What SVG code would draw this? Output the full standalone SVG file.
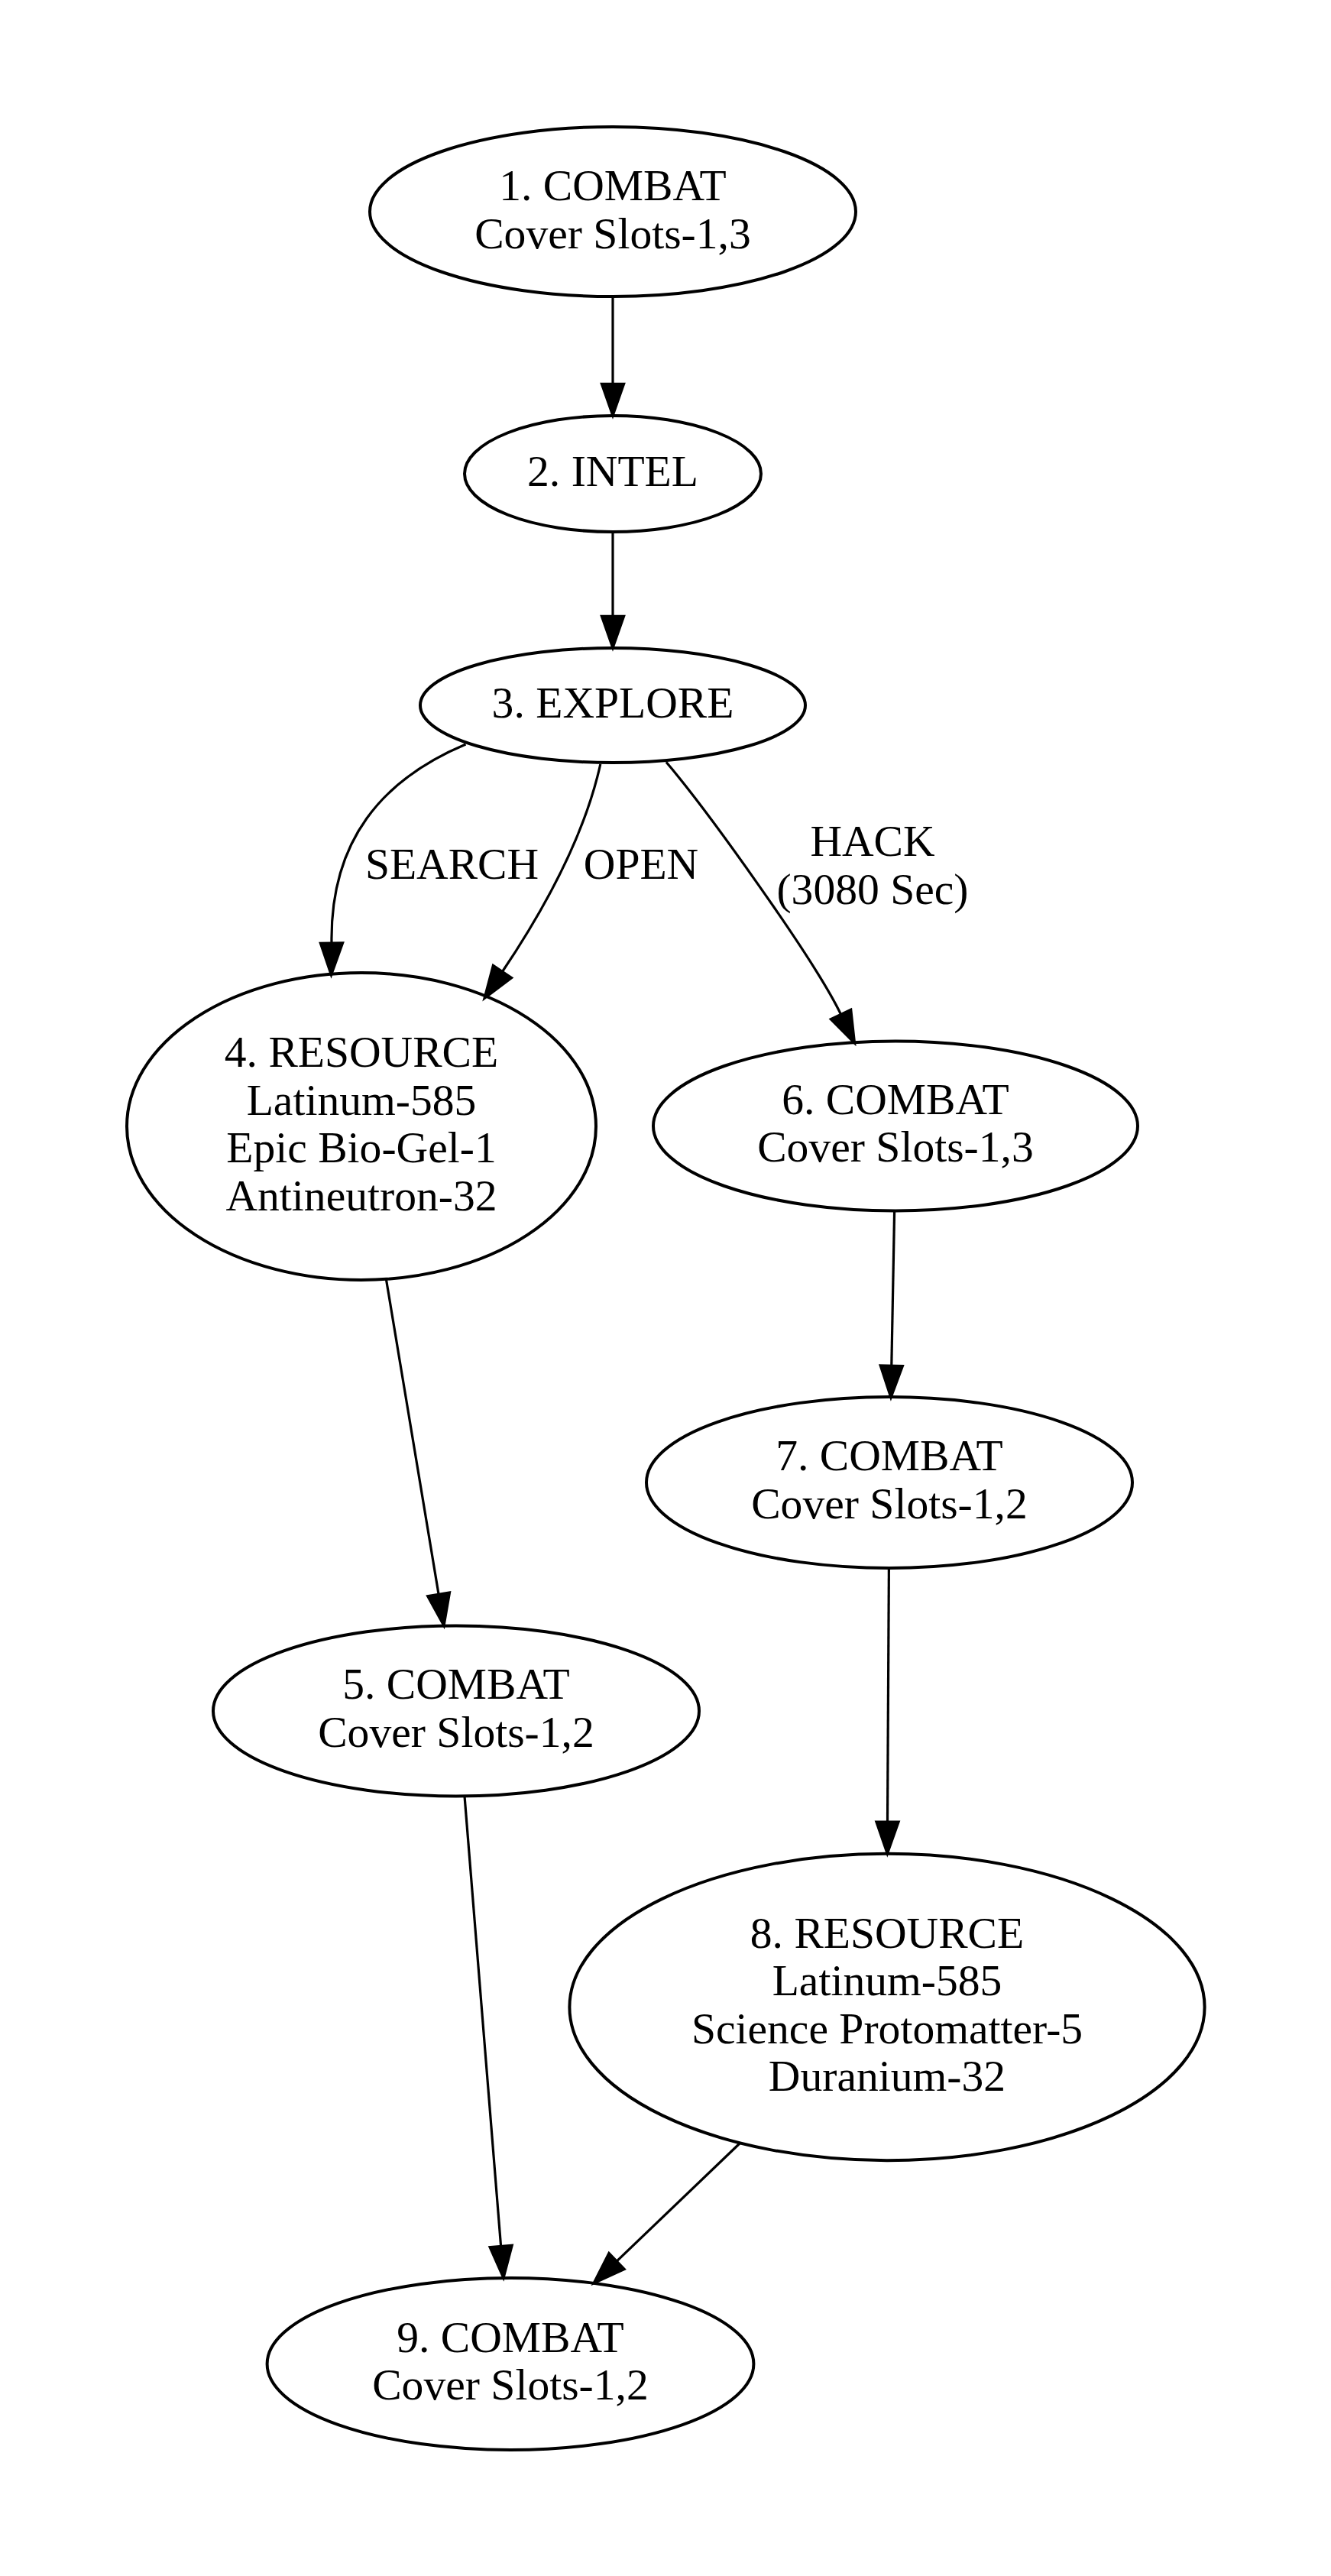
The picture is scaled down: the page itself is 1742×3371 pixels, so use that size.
<svg xmlns="http://www.w3.org/2000/svg" width="1742" height="3371" viewBox="0 0 1742 3371">
<style>
.n{fill:none;stroke:#000;stroke-width:4}
.e{fill:none;stroke:#000;stroke-width:3.2}
.a{fill:#000;stroke:#000;stroke-width:3.2;stroke-linejoin:miter}
text{font-family:"Liberation Serif","Times New Roman",serif;font-size:57.6px;fill:#000;text-anchor:middle}
</style>
<rect width="1742" height="3371" fill="#fff"/>
<g id="connectors">
<path class="e" d="M802,388 L802,503.3"/>
<polygon class="a" points="802,544 787.4,502.3 816.6,502.3"/>
<path class="e" d="M802,696 L802,806.3"/>
<polygon class="a" points="802,848 787.4,806.3 816.6,806.3"/>
<path class="e" d="M609.5,974 C500,1020 432,1100 434,1234"/>
<polygon class="a" points="433.5,1276 419.4,1234.2 448.6,1233.8"/>
<text x="591.5" y="1150">SEARCH</text>
<path class="e" d="M785.8,1000 C766.4,1087.8 718.8,1180.3 657.5,1271.5"/>
<polygon class="a" points="634,1306.5 645.4,1263.4 669.6,1279.6"/>
<text x="839" y="1150">OPEN</text>
<path class="e" d="M871.9,997.3 C923.9,1058.1 1065.9,1255.2 1100.5,1327.4"/>
<polygon class="a" points="1118.5,1365 1087.3,1333.7 1113.7,1321.1"/>
<text x="1142" y="1120">HACK</text>
<text x="1142" y="1183">(3080 Sec)</text>
<path class="e" d="M505.4,1674 L574.1,2086.4"/>
<polygon class="a" points="581,2127.5 559.7,2088.8 588.5,2084.0"/>
<path class="e" d="M1170.6,1585 L1166.8,1787.3"/>
<polygon class="a" points="1166,1829 1152.2,1787.0 1181.4,1787.6"/>
<path class="e" d="M1163.4,2052 L1161.5,2384.1"/>
<polygon class="a" points="1161.3,2425.8 1146.9,2384.0 1176.1,2384.2"/>
<path class="e" d="M608,2350.5 L655.6,2939.4"/>
<polygon class="a" points="659,2981 641.1,2940.6 670.2,2938.2"/>
<path class="e" d="M968,2805 L807.1,2959.1"/>
<polygon class="a" points="777,2988 797.0,2948.6 817.2,2969.6"/>
</g>
<g id="node1"><ellipse class="n" cx="802" cy="277" rx="318" ry="111"/><text x="802" y="262">1. COMBAT</text><text x="802" y="324.5">Cover Slots-1,3</text></g>
<g id="node2"><ellipse class="n" cx="802" cy="620" rx="194" ry="76"/><text x="802" y="635.5">2. INTEL</text></g>
<g id="node3"><ellipse class="n" cx="802" cy="923" rx="252" ry="75"/><text x="802" y="939">3. EXPLORE</text></g>
<g id="node4"><ellipse class="n" cx="473" cy="1474" rx="307" ry="201"/><text x="473" y="1396">4. RESOURCE</text><text x="473" y="1458.5">Latinum-585</text><text x="473" y="1521">Epic Bio-Gel-1</text><text x="473" y="1583.5">Antineutron-32</text></g>
<g id="node6"><ellipse class="n" cx="1172" cy="1473.5" rx="317" ry="111"/><text x="1172" y="1457.5">6. COMBAT</text><text x="1172" y="1520">Cover Slots-1,3</text></g>
<g id="node7"><ellipse class="n" cx="1164" cy="1940" rx="318" ry="112"/><text x="1164" y="1924">7. COMBAT</text><text x="1164" y="1986.5">Cover Slots-1,2</text></g>
<g id="node5"><ellipse class="n" cx="597" cy="2239" rx="318" ry="111.5"/><text x="597" y="2223">5. COMBAT</text><text x="597" y="2285.5">Cover Slots-1,2</text></g>
<g id="node8"><ellipse class="n" cx="1161" cy="2626.5" rx="415.6" ry="200.7"/><text x="1161" y="2548.5">8. RESOURCE</text><text x="1161" y="2611">Latinum-585</text><text x="1161" y="2673.5">Science Protomatter-5</text><text x="1161" y="2736">Duranium-32</text></g>
<g id="node9"><ellipse class="n" cx="668" cy="3093.5" rx="318.4" ry="112.5"/><text x="668" y="3077.5">9. COMBAT</text><text x="668" y="3140">Cover Slots-1,2</text></g>
</svg>
